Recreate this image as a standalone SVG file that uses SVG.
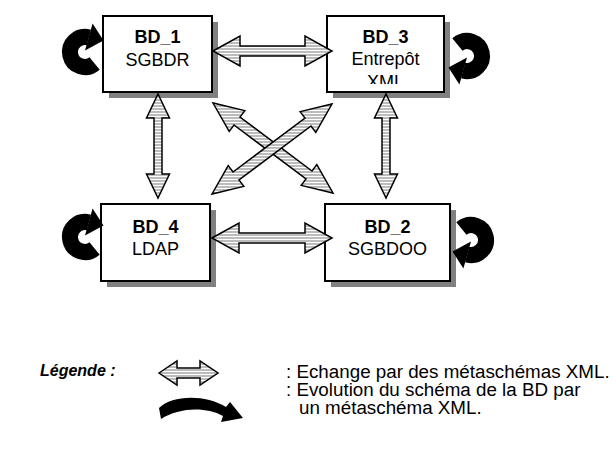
<svg xmlns="http://www.w3.org/2000/svg" width="616" height="456" viewBox="0 0 616 456">
<style>
.box{fill:#fff;stroke:#000;stroke-width:2}
.shadow{fill:#808080}
.t{font-family:"Liberation Sans",Arial,sans-serif;font-size:18px;fill:#000;text-anchor:middle}
.b{font-weight:bold}
.arr{fill:url(#hatch);stroke:#000;stroke-width:1.5;stroke-linejoin:miter}
.lg{font-family:"Liberation Sans",Arial,sans-serif;font-size:18.8px;fill:#000}
</style>
<defs>
<pattern id="hatch" x="0" y="0" width="4" height="3" patternUnits="userSpaceOnUse">
<rect width="4" height="3" fill="#bcbcbc"/>
<rect y="2" width="4" height="1" fill="#ffffff"/>
</pattern>
<clipPath id="clip3"><rect x="327" y="16" width="117" height="68"/></clipPath>
<g id="loopL">
<path d="M9.6 11.5 A15 15 0 1 1 3.9 -14.5" fill="none" stroke="#000" stroke-width="16"/>
<polygon points="7.6,-28.5 18.5,-11.5 0,-1.5" fill="#000"/>
</g>
</defs>

<g id="BD_1">
<rect class="shadow" x="109" y="22" width="109" height="76"/>
<rect class="box" x="103" y="16" width="109" height="76"/>
<text class="t b" x="157.5" y="43">BD_1</text>
<text class="t" x="157.5" y="66">SGBDR</text>
<use href="#loopL" transform="translate(85,52)"/>
</g>

<g id="BD_3">
<rect class="shadow" x="333" y="22" width="117" height="76"/>
<rect class="box" x="327" y="16" width="117" height="76"/>
<text class="t b" x="385.5" y="43">BD_3</text>
<text class="t" x="385.5" y="65">Entrepôt</text>
<text class="t" x="385.5" y="88" clip-path="url(#clip3)">XML</text>
<use href="#loopL" transform="translate(467,56) rotate(180)"/>
</g>

<g id="BD_4">
<rect class="shadow" x="107" y="210" width="109" height="77"/>
<rect class="box" x="101" y="204" width="109" height="77"/>
<text class="t b" x="155.5" y="233">BD_4</text>
<text class="t" x="155.5" y="255">LDAP</text>
<use href="#loopL" transform="translate(85,237)"/>
</g>

<g id="BD_2">
<rect class="shadow" x="331" y="210" width="125" height="77"/>
<rect class="box" x="325" y="204" width="125" height="77"/>
<text class="t b" x="387.5" y="233">BD_2</text>
<text class="t" x="387.5" y="255">SGBDOO</text>
<use href="#loopL" transform="translate(471,240) rotate(180)"/>
</g>

<g id="connectors">
<polygon class="arr" points="213,51 240,36 240,46 305,46 305,36 332,51 305,66 305,56 240,56 240,66"/>
<polygon class="arr" points="212,238 239,223 239,233 305,233 305,223 332,238 305,253 305,243 239,243 239,253"/>
<polygon class="arr" points="158,94 169.5,118 162,118 162,174 169.5,174 158,198 146.5,174 154,174 154,118 146.5,118"/>
<polygon class="arr" points="386,94 397.5,118 390,118 390,174 397.5,174 386,198 374.5,174 382,174 382,118 374.5,118"/>
<polygon class="arr" points="213,103 229.2,131.4 234,125 306,179 301.2,185.4 333,193 316.8,164.6 312,171 240,117 244.8,110.6"/>
<polygon class="arr" points="332,104 315.8,132.4 311,126 239,180 243.8,186.4 212,194 228.2,165.6 233,172 305,118 300.2,111.6"/>
</g>

<g id="legend">
<text class="lg" x="40" y="376" style="font-weight:bold;font-style:italic;font-size:16px">Légende :</text>
<polygon class="arr" points="159,373 177,361 177,368 200,368 200,361 218,373 200,385 200,378 177,378 177,385"/>
<path d="M159 408 C172 395 205 394 226 407 L230 402 L243 418 L221 422 L223 416 C205 406 178 408 161 419 Z" fill="#000"/>
<text class="lg" x="286" y="378">:  Echange par des métaschémas XML.</text>
<text class="lg" x="286" y="396">:  Evolution du schéma de la BD par</text>
<text class="lg" x="299" y="414">un métaschéma XML.</text>
</g>
</svg>
